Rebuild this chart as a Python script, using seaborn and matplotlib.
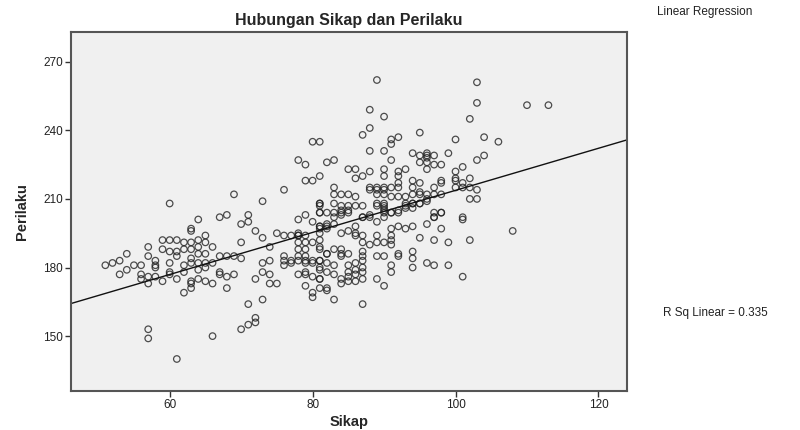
import matplotlib
matplotlib.use("Agg")
import matplotlib.pyplot as plt
import seaborn as sns
import pandas as pd

# ---- data ----
sikap = [
    # left cluster
    60, 64, 63, 59, 60, 61, 62, 63, 64, 64, 57, 59, 60, 61, 62, 54, 57, 61, 63, 64,
    58, 58, 58, 53, 52, 51, 55, 56, 60, 62, 64, 54, 53, 56, 56, 57, 57, 58, 60, 60,
    59, 61, 62, 63, 63, 63, 64, 62, 57, 57, 61,
    # upper-middle left
    80, 81, 78, 79, 82, 81, 79, 80, 76, 69, 73, 81, 81, 79, 68, 67, 71, 78,
    # middle left
    80, 81, 82, 70, 71, 63, 72, 65, 70, 73, 75, 76, 77, 78, 79, 74, 67, 68, 69, 70,
    76, 76, 76, 77, 77, 74, 73, 67, 67, 68, 69, 73, 74, 72, 65, 66, 68, 74, 75, 79,
    80, 80, 73, 71, 72, 72, 71, 70, 66,
    78, 78, 78, 78, 78, 78, 78, 79, 79, 79, 79, 79, 79, 79, 80, 80, 80, 80, 81, 81,
    81, 81, 81, 82, 82, 82,
    65, 66, 63, 65, 65, 65, 66, 64, 63,
    # upper middle
    89, 88, 90, 88, 87, 102, 95, 100, 91, 91, 92, 88, 90, 91, 94, 95, 96, 96, 96, 97,
    99, 83, 95, 96, 97, 98, 101, 100, 85, 86, 90, 96, 93, 88, 87, 86, 90, 92, 92, 92,
    94, 95, 94, 100, 100, 101, 98, 88, 89, 90, 91, 88, 89, 90, 83, 83, 92, 95, 95, 97,
    97, 98, 102, 102, 84, 85, 86, 89, 90, 91, 92, 93, 94, 96, 98, 81, 83, 84, 85, 86,
    87, 84, 85, 84, 85, 89, 90, 90, 90, 93, 94, 92, 93, 94, 95, 96, 100, 101, 102, 83,
    87, 88, 90, 91, 97, 98, 101, 82,
    # lower middle
    84, 83, 81, 81, 89, 90, 90, 91, 92, 88, 87, 93, 94, 95, 96, 97, 98, 97, 101, 89,
    82, 83, 82, 81, 81, 86, 85, 96, 98, 91, 92, 93, 94, 84, 86, 86, 87, 89, 91, 91,
    81, 81, 87, 89, 88, 90, 91, 95, 97, 99, 102, 83, 84, 84, 84, 85, 82, 87, 87, 87,
    89, 90, 92, 92, 94, 94, 94, 96, 97, 99, 101, 91, 91, 81, 81, 83, 85, 85, 86, 86,
    87, 87, 86, 85, 84, 85, 86, 84, 87, 82, 83, 81, 81, 82, 89, 90, 83, 87,
    # right
    103, 103, 110, 113, 104, 106, 103, 104, 103, 103, 108,
]
perilaku = [
    208, 201, 197, 192, 192, 192, 191, 191, 192, 189, 189, 188, 187, 187, 188, 186, 185, 185, 184, 186,
    183, 181, 180, 183, 182, 181, 181, 181, 182, 181, 182, 179, 177, 177, 175, 176, 173, 176, 178, 177,
    174, 175, 178, 174, 173, 171, 175, 169, 153, 149, 140,
    235, 235, 227, 225, 226, 220, 218, 218, 214, 212, 209, 208, 204, 203, 203, 202, 203, 201,
    200, 198, 197, 199, 200, 196, 196, 194, 191, 193, 195, 194, 194, 194, 194, 189, 185, 185, 185, 184,
    185, 183, 181, 183, 182, 183, 182, 178, 177, 176, 177, 178, 177, 175, 174, 173, 171, 173, 173, 172,
    169, 167, 166, 164, 158, 156, 155, 153, 150,
    195, 194, 191, 188, 185, 183, 177, 191, 188, 185, 183, 182, 178, 177, 191, 183, 182, 176, 195, 188,
    183, 179, 175, 186, 182, 171,
    191, 189, 188, 186, 182, 180, 182, 179, 182,
    262, 249, 246, 241, 238, 245, 239, 236, 236, 234, 237, 231, 231, 227, 230, 229, 230, 229, 228, 229,
    230, 227, 226, 226, 225, 225, 224, 222, 223, 223, 223, 223, 223, 222, 220, 219, 220, 222, 220, 217,
    218, 217, 215, 219, 218, 217, 218, 215, 215, 215, 215, 214, 214, 214, 215, 212, 215, 213, 212, 215,
    212, 217, 219, 215, 212, 212, 211, 212, 212, 211, 211, 211, 212, 212, 212, 208, 208, 207, 207, 207,
    207, 205, 205, 204, 204, 208, 208, 206, 204, 208, 208, 205, 206, 206, 208, 210, 215, 215, 210, 202,
    202, 202, 202, 204, 204, 204, 202, 204,
    203, 204, 207, 204, 207, 207, 205, 204, 204, 203, 202, 207, 208, 208, 209, 202, 204, 202, 201, 200,
    199, 199, 198, 198, 197, 198, 196, 199, 197, 197, 198, 197, 198, 195, 195, 194, 194, 194, 194, 192,
    192, 189, 191, 191, 190, 191, 190, 193, 192, 191, 192, 188, 188, 186, 185, 186, 186, 187, 185, 183,
    185, 185, 186, 185, 187, 184, 180, 182, 181, 181, 176, 181, 178, 183, 180, 181, 181, 178, 182, 179,
    180, 178, 177, 176, 175, 174, 174, 173, 175, 178, 177, 175, 171, 170, 175, 172, 166, 164,
    261, 252, 251, 251, 237, 235, 227, 229, 214, 210, 196,
]
x_ticks = [60, 80, 100, 120]
y_ticks = [150, 180, 210, 240, 270]
title = "Hubungan Sikap dan Perilaku"
fit_label = "Linear Regression"
r2_label = "R Sq Linear = 0.335"

df = pd.DataFrame({"Sikap": sikap, "Perilaku": perilaku})

sns.set_style("white")
plt.rcParams["font.family"] = ["Liberation Sans", "DejaVu Sans"]

fig = plt.figure(figsize=(8, 4.3), dpi=100)
ax = fig.add_axes([0.0888, 0.0907, 0.6950, 0.8349])
ax.set_facecolor("#f0f0f0")
ax.set_xlim(46.2, 124.0)
ax.set_ylim(126.0, 283.0)

sns.regplot(data=df, x="Sikap", y="Perilaku", ax=ax, ci=None, truncate=False,
            scatter_kws=dict(s=22, facecolors="none", edgecolors="#222222", linewidths=0.9),
            line_kws=dict(color="#111111", lw=1.0))

ax.set_xlim(46.2, 124.0)
ax.set_ylim(126.0, 283.0)
ax.set_xticks(x_ticks)
ax.set_yticks(y_ticks)
ax.tick_params(axis="both", direction="out", length=4, width=1, color="#333333",
               labelsize=8.5, labelcolor="#222222", pad=2, bottom=True, left=True)
for sp in ax.spines.values():
    sp.set_color("#555555")
    sp.set_linewidth(1.5)

ax.set_xlabel("Sikap", fontsize=10.5, fontweight="bold", labelpad=3)
ax.set_ylabel("Perilaku", fontsize=10.5, fontweight="bold", labelpad=10,
              fontstretch="condensed")
ax.set_title(title, fontsize=11.5, fontweight="bold", pad=5)

fig.text(0.821, 0.985, fit_label, fontsize=8.5, color="#222222", va="top", ha="left")
fig.text(0.829, 0.272, r2_label, fontsize=8.5, color="#222222", va="center", ha="left")

fig.savefig("out.png", dpi=100)
